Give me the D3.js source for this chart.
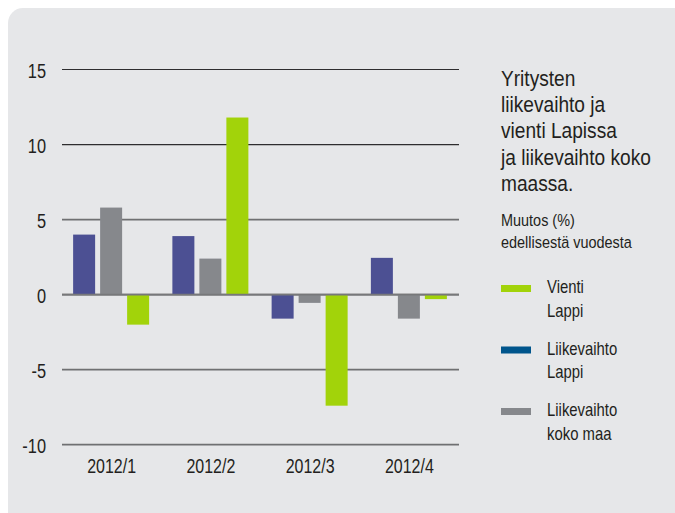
<!DOCTYPE html>
<html>
<head>
<meta charset="utf-8">
<script src="https://cdn.jsdelivr.net/npm/d3@7"></script>
<style>
    html, body { margin: 0; padding: 0; background: #ffffff; }
    svg { display: block; }
    text { font-family: "Liberation Sans", Arial, sans-serif; fill: #231f20; }
</style>
</head>
<body>
<div id="grafico"></div>
<script>
// Dados: muutos (%) edellisestä vuodesta
const kvartaalit = ['2012/1', '2012/2', '2012/3', '2012/4'];
const liikevaihtoLappi = [4.0, 3.9, -1.6, 2.45];
const liikevaihtoKokoMaa = [5.8, 2.4, -0.55, -1.6];
const vientiLappi = [-2.0, 11.8, -7.4, -0.3];
const yTicks = [15, 10, 5, 0, -5, -10];

const sarjat = [
    { nimi: 'liikevaihtoLappi', arvot: liikevaihtoLappi, vari: '#4c5093' },
    { nimi: 'liikevaihtoKokoMaa', arvot: liikevaihtoKokoMaa, vari: '#86888c' },
    { nimi: 'vientiLappi', arvot: vientiLappi, vari: '#a2d30a' }
];

const selite = [
    { rivit: ['Vienti', 'Lappi'], vari: '#a2d30a' },
    { rivit: ['Liikevaihto', 'Lappi'], vari: '#00558c' },
    { rivit: ['Liikevaihto', 'koko maa'], vari: '#86888c' }
];

const otsikko = ['Yritysten', 'liikevaihto ja', 'vienti Lapissa', 'ja liikevaihto koko', 'maassa.'];
const alaotsikko = ['Muutos (%)', 'edellisestä vuodesta'];

const leveys = 675, korkeus = 513;
// kapea fontti: Liberation Sans puristettuna vaakasuunnassa
const kapea = 0.85, kapeaNumerot = 0.78;

const svg = d3.select('#grafico')
    .append('svg')
    .attr('width', leveys)
    .attr('height', korkeus);

// Tausta
svg.append('rect')
    .attr('x', 8).attr('y', 8)
    .attr('width', 680).attr('height', 520)
    .attr('rx', 15).attr('ry', 15)
    .attr('fill', '#e6e7e9');

// Asteikot
const x = d3.scaleBand()
    .domain(kvartaalit)
    .range([62, 459])
    .paddingInner(0)
    .paddingOuter(0);

const y = d3.scaleLinear()
    .domain([-10, 15])
    .range([444.7, 69.5]);

const xSisa = d3.scaleBand()
    .domain(sarjat.map(s => s.nimi))
    .range([0, 76])
    .paddingInner(5 / 27)
    .paddingOuter(0);

// Ruudukko
svg.append('g')
    .selectAll('line')
    .data(yTicks)
    .enter()
    .append('line')
    .attr('x1', 62).attr('x2', 459)
    .attr('y1', d => y(d)).attr('y2', d => y(d))
    .attr('stroke', d => d >= 10 ? '#2e2d2f' : '#6f7072')
    .attr('stroke-width', d => d >= 10 ? 1.2 : 1.8);

// Y-akseli
const yAkseli = svg.append('g')
    .attr('transform', 'translate(46,0)')
    .call(d3.axisLeft(y).tickValues(yTicks).tickFormat(d => String(d)).tickSize(0).tickPadding(0));
yAkseli.select('.domain').remove();
yAkseli.selectAll('text')
    .style('font-size', '21px')
    .attr('font-family', null)
    .attr('dy', '0.36em')
    .attr('transform', `scale(${kapeaNumerot},1)`);

// Pylväät
const ryhmat = svg.append('g')
    .selectAll('g')
    .data(kvartaalit)
    .enter()
    .append('g')
    .attr('transform', d => `translate(${x(d) + (x.bandwidth() - 76) / 2 - 0.5},0)`);

ryhmat.selectAll('rect')
    .data((d, i) => sarjat.map(s => ({ sarja: s.nimi, arvo: s.arvot[i], vari: s.vari })))
    .enter()
    .append('rect')
    .attr('x', d => xSisa(d.sarja))
    .attr('y', d => y(Math.max(0, d.arvo)))
    .attr('width', xSisa.bandwidth())
    .attr('height', d => Math.abs(y(d.arvo) - y(0)))
    .attr('fill', d => d.vari);

// Nollaviiva pylväiden päällä
svg.append('line')
    .attr('x1', 62).attr('x2', 459)
    .attr('y1', y(0)).attr('y2', y(0))
    .attr('stroke', '#77787a')
    .attr('stroke-width', 1.8);

// X-akseli
const xAkseli = svg.append('g')
    .attr('transform', 'translate(0,458)')
    .call(d3.axisBottom(x).tickSize(0).tickPadding(0));
xAkseli.select('.domain').remove();
xAkseli.selectAll('text')
    .style('font-size', '20.5px')
    .attr('font-family', null)
    .attr('dy', '0.72em')
    .attr('transform', `scale(${kapeaNumerot},1)`);

// Otsikko
svg.append('text')
    .attr('transform', `translate(501,86) scale(${kapea},1)`)
    .style('font-size', '22.5px')
    .selectAll('tspan')
    .data(otsikko)
    .enter()
    .append('tspan')
    .attr('x', 0)
    .attr('dy', (d, i) => i === 0 ? 0 : 26.2)
    .text(d => d);

svg.append('text')
    .attr('transform', `translate(501,226) scale(${kapea},1)`)
    .style('font-size', '17px')
    .selectAll('tspan')
    .data(alaotsikko)
    .enter()
    .append('tspan')
    .attr('x', 0)
    .attr('dy', (d, i) => i === 0 ? 0 : 22)
    .text(d => d);

// Selite
const seliteRyhmat = svg.append('g')
    .selectAll('g')
    .data(selite)
    .enter()
    .append('g')
    .attr('transform', (d, i) => `translate(501,${288.5 + i * 61.5})`);

seliteRyhmat.append('rect')
    .attr('x', 0).attr('y', -3.5)
    .attr('width', 30).attr('height', 7)
    .attr('fill', d => d.vari);

seliteRyhmat.append('text')
    .attr('transform', `translate(46,4.5) scale(${kapea},1)`)
    .style('font-size', '17.5px')
    .selectAll('tspan')
    .data(d => d.rivit)
    .enter()
    .append('tspan')
    .attr('x', 0)
    .attr('dy', (d, i) => i === 0 ? 0 : 24)
    .text(d => d);
</script>
</body>
</html>
